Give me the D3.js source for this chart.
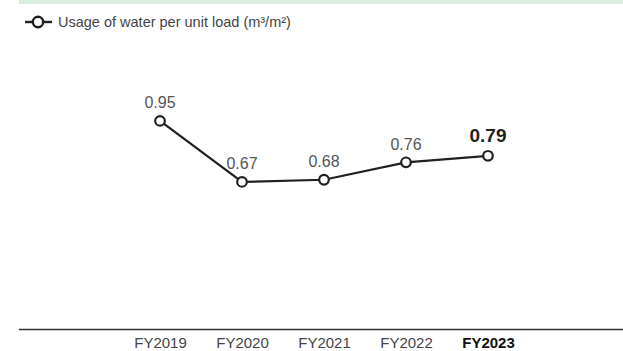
<!DOCTYPE html>
<html>
<head>
<meta charset="utf-8">
<script src="https://cdn.jsdelivr.net/npm/d3@7"></script>
<style>
  html, body { margin: 0; padding: 0; background: #fff; }
  svg { display: block; font-family: "Liberation Sans", Arial, sans-serif; }
</style>
</head>
<body>
<svg id="chart" width="623" height="351"></svg>
<script>
// Fiscal years shown along the bottom
const categories = ["FY2019", "FY2020", "FY2021", "FY2022", "FY2023"];
// Water used per unit of load (m³/m²)
const waterUsage = [0.95, 0.67, 0.68, 0.76, 0.79];
// Value labels as printed above each point
const valueLabels = ["0.95", "0.67", "0.68", "0.76", "0.79"];
const seriesName = "Usage of water per unit load (m\u00B3/m\u00B2)";
const highlightYear = "FY2023";

const W = 623, H = 351;
const svg = d3.select("#chart");

const x = d3.scalePoint().domain(categories).range([160, 488]);
const y = d3.scaleLinear().domain([0, 1]).range([328, 110]);

// Header band
svg.append("rect")
  .attr("x", 19).attr("y", 0)
  .attr("width", W - 19).attr("height", 4)
  .attr("fill", "#d9ede1");

// Legend
const lg = svg.append("g").attr("transform", "translate(0,22)");
lg.append("line")
  .attr("x1", 25).attr("x2", 52).attr("y1", 0).attr("y2", 0)
  .attr("stroke", "#231f20").attr("stroke-width", 2.4);
lg.append("circle")
  .attr("cx", 38).attr("cy", 0).attr("r", 5.2)
  .attr("fill", "#fff").attr("stroke", "#231f20").attr("stroke-width", 2.4);
lg.append("text")
  .attr("x", 58).attr("y", 5)
  .attr("font-size", 14.5).attr("fill", "#444")
  .text(seriesName);

// Baseline
svg.append("line")
  .attr("x1", 19).attr("x2", W)
  .attr("y1", 329.5).attr("y2", 329.5)
  .attr("stroke", "#333").attr("stroke-width", 1.5);

// Category axis
const xAxis = svg.append("g")
  .attr("transform", "translate(0,336)")
  .call(d3.axisBottom(x).tickSize(0).tickPadding(0));
xAxis.select(".domain").remove();
xAxis.selectAll("text")
  .attr("font-family", "\"Liberation Sans\", Arial, sans-serif")
  .attr("font-size", 15)
  .attr("dy", "0.78em")
  .attr("fill", d => d === highlightYear ? "#111" : "#444")
  .attr("font-weight", d => d === highlightYear ? "bold" : "normal");

const pts = categories.map((c, i) => ({ c, v: waterUsage[i], label: valueLabels[i] }));

// Series line
svg.append("path")
  .datum(pts)
  .attr("fill", "none")
  .attr("stroke", "#231f20")
  .attr("stroke-width", 2.2)
  .attr("d", d3.line().x(d => x(d.c)).y(d => y(d.v)));

// Point markers
svg.selectAll("circle.pt")
  .data(pts)
  .enter().append("circle")
  .attr("class", "pt")
  .attr("cx", d => x(d.c)).attr("cy", d => y(d.v))
  .attr("r", 4.8)
  .attr("fill", "#fff").attr("stroke", "#231f20").attr("stroke-width", 2.2);

// Value labels
svg.selectAll("text.val")
  .data(pts)
  .enter().append("text")
  .attr("class", "val")
  .attr("x", d => x(d.c))
  .attr("y", d => y(d.v) - (d.c === highlightYear ? 14 : 12.5))
  .attr("text-anchor", "middle")
  .attr("font-size", d => d.c === highlightYear ? 19 : 16)
  .attr("font-weight", d => d.c === highlightYear ? "bold" : "normal")
  .attr("fill", d => d.c === highlightYear ? "#222" : "#555")
  .text(d => d.label);
</script>
</body>
</html>
